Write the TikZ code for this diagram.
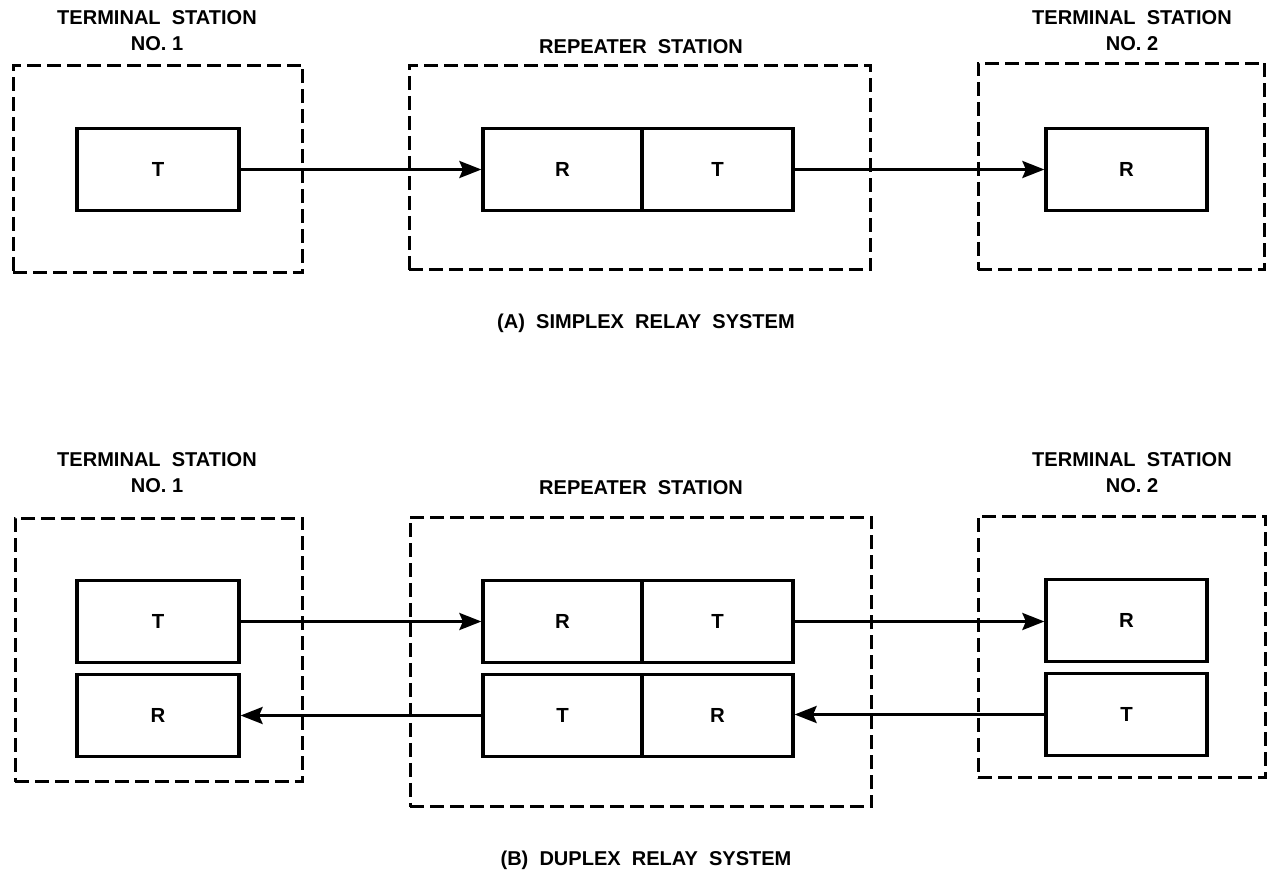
\documentclass[tikz,border=0pt]{standalone}
\usepackage{fontspec}
\setmainfont{Liberation Sans}
\usetikzlibrary{arrows.meta}
\begin{document}
\begin{tikzpicture}[x=0.02cm,y=-0.02cm,
  lbl/.style={font=\fontsize{11.4pt}{14.8pt}\selectfont\bfseries, align=center, inner sep=0},
  unit/.style={draw, line width=1.85pt, inner sep=0, minimum height=1.64cm, font=\fontsize{11.6pt}{13pt}\selectfont\bfseries},
  station/.style={draw, dash pattern=on 0.28cm off 0.12cm, line width=1.7pt, inner sep=0},
  link/.style={line width=1.7pt, -{Stealth[length=0.44cm,width=0.34cm,inset=0.07cm]}}
]
\useasboundingbox (0,0) rectangle (1269,876);

% ---------- (A) simplex ----------
\node[station, minimum width=5.8cm, minimum height=4.16cm] (a1) at (158,169) {};
\node[station, minimum width=9.24cm, minimum height=4.1cm] (a2) at (640,167.5) {};
\node[station, minimum width=5.74cm, minimum height=4.14cm] (a3) at (1121.5,166.5) {};

\node[lbl] (a1lbl) at (157,31) {TERMINAL\ \ STATION\\NO. 1};
\node[lbl] (a2lbl) at (641,47) {REPEATER\ \ STATION};
\node[lbl] (a3lbl) at (1132,31) {TERMINAL\ \ STATION\\NO. 2};

\node[unit, minimum width=3.24cm] (at1) at (158,169.5) {T};
\node[unit, minimum width=3.18cm] (arr) at (562.5,169.5) {R};
\node[unit, minimum width=3.02cm] (art) at (717.5,169.5) {T};
\node[unit, minimum width=3.22cm] (ar3) at (1126.5,169.5) {R};

\draw[link] (at1.east) -- (arr.west);
\draw[link] (art.east) -- (ar3.west);

\node[lbl] (acap) at (646,323) {(A)\ \ SIMPLEX\ \ RELAY\ \ SYSTEM};

% ---------- (B) duplex ----------
\node[station, minimum width=5.76cm, minimum height=5.28cm] (b1) at (159,650) {};
\node[station, minimum width=9.24cm, minimum height=5.8cm] (b2) at (641,662) {};
\node[station, minimum width=5.76cm, minimum height=5.24cm] (b3) at (1122,647) {};

\node[lbl] (b1lbl) at (157,473) {TERMINAL\ \ STATION\\NO. 1};
\node[lbl] (b2lbl) at (641,488) {REPEATER\ \ STATION};
\node[lbl] (b3lbl) at (1132,473) {TERMINAL\ \ STATION\\NO. 2};

\node[unit, minimum width=3.24cm] (bt1) at (158,621.5) {T};
\node[unit, minimum width=3.24cm] (br1) at (158,715.5) {R};
\node[unit, minimum width=3.18cm] (brr) at (562.5,621.5) {R};
\node[unit, minimum width=3.02cm] (brt) at (717.5,621.5) {T};
\node[unit, minimum width=3.18cm] (blt) at (562.5,715.5) {T};
\node[unit, minimum width=3.02cm] (blr) at (717.5,715.5) {R};
\node[unit, minimum width=3.22cm] (br3) at (1126.5,620.5) {R};
\node[unit, minimum width=3.22cm] (bt3) at (1126.5,714.5) {T};

\draw[link] (bt1.east) -- (brr.west);
\draw[link] (brt.east) -- (br3.west |- brt.east);
\draw[link] (bt3.west) -- (blr.east |- bt3.west);
\draw[link] (blt.west) -- (br1.east);

\node[lbl] (bcap) at (646,860) {(B)\ \ DUPLEX\ \ RELAY\ \ SYSTEM};
\end{tikzpicture}
\end{document}
